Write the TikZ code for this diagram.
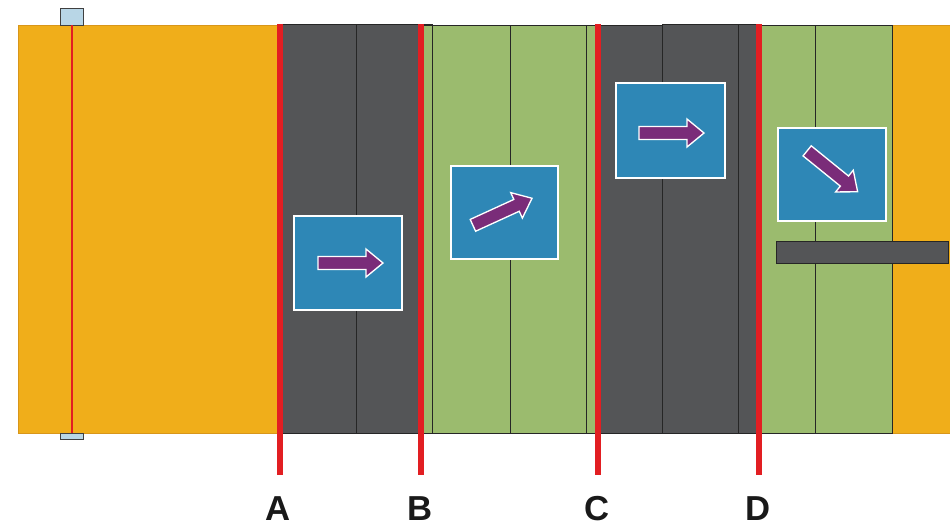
\documentclass[tikz,border=0pt]{standalone}
\usepackage{fontspec}
\setmainfont{Liberation Sans}
\definecolor{orng}{HTML}{F0AE1A}
\definecolor{orngdark}{HTML}{D8961A}
\definecolor{dgray}{HTML}{545557}
\definecolor{grn}{HTML}{9BBB6E}
\definecolor{rd}{HTML}{E21E22}
\definecolor{bl}{HTML}{2E87B6}
\definecolor{purp}{HTML}{7A2C79}
\definecolor{tab}{HTML}{B8D6E6}
\begin{document}
\begin{tikzpicture}[x=0.75pt,y=-0.75pt,
  orangebox/.style={fill=orng,draw=orngdark,line width=0.6pt},
  graybox/.style={fill=dgray,draw=black!85,line width=0.6pt},
  greenbox/.style={fill=grn,draw=black!85,line width=0.6pt},
  redline/.style={draw=rd,line width=4.5pt},
  bluebox/.style={fill=bl,draw=white,line width=2.2pt},
  arrowshape/.style={fill=purp,draw=white,line width=1pt,line join=miter},
  tabbox/.style={fill=tab,draw=black!75,line width=0.6pt},
  lab/.style={font=\bfseries\fontsize{26}{26}\selectfont,text=black!90,inner sep=0pt,anchor=base}]
\useasboundingbox (0,0) rectangle (950,529);
\fill[white] (0,0) rectangle (950,529);
% orange ends
\draw[orangebox] (18,25) rectangle (280,433);
\draw[orangebox] (892,25) rectangle (950,433);
% tabs and thin red line
\draw[tabbox] (60,8) rectangle (83,25);
\draw[tabbox] (60,433) rectangle (83,439);
\draw[rd,line width=1pt] (72,25) -- (72,433);
% dark gray A-B
\draw[graybox] (280,24) rectangle (356,433);
\draw[graybox] (356,24) rectangle (432,433);
% green B-C
\draw[greenbox] (420,25) rectangle (432,433);
\draw[greenbox] (432,25) rectangle (510,433);
\draw[greenbox] (510,25) rectangle (586,433);
\draw[greenbox] (586,25) rectangle (600,433);
% dark gray C-D
\draw[graybox] (600,25) rectangle (662,433);
\draw[graybox] (662,24) rectangle (738,433);
\draw[graybox] (738,24) rectangle (760,433);
% green D-end
\draw[greenbox] (760,25) rectangle (815,433);
\draw[greenbox] (815,25) rectangle (892,433);
% red lines
\coordinate (At) at (280,24); \coordinate (Ab) at (280,475);
\coordinate (Bt) at (421,24); \coordinate (Bb) at (421,475);
\coordinate (Ct) at (598,24); \coordinate (Cb) at (598,475);
\coordinate (Dt) at (759,24); \coordinate (Db) at (759,475);
\draw[redline] (At) -- (Ab);
\draw[redline] (Bt) -- (Bb);
\draw[redline] (Ct) -- (Cb);
\draw[redline] (Dt) -- (Db);
% gray bar
\draw[graybox] (776,241) rectangle (948,263);
% blue boxes
\draw[bluebox] (294,216) rectangle (402,310);
\draw[bluebox] (451,166) rectangle (558,259);
\draw[bluebox] (616,83) rectangle (725,178);
\draw[bluebox] (778,128) rectangle (886,221);
% arrows
\newcommand\flowarrow[3]{%
  \begin{scope}[shift={(#1,#2)},rotate=#3]
    \draw[arrowshape] (-32,-6.5) -- (16,-6.5) -- (16,-14) -- (33,0) -- (16,14) -- (16,6.5) -- (-32,6.5) -- cycle;
  \end{scope}}
\flowarrow{350}{263}{0}
\flowarrow{502}{212}{24.6}
\flowarrow{671}{133}{0}
\flowarrow{832}{171}{-39}
% labels
\node[lab] (la) at (278,520) {A};
\node[lab] (lb) at (420,520) {B};
\node[lab] (lc) at (597,520) {C};
\node[lab] (ld) at (758,520) {D};
\end{tikzpicture}
\end{document}
